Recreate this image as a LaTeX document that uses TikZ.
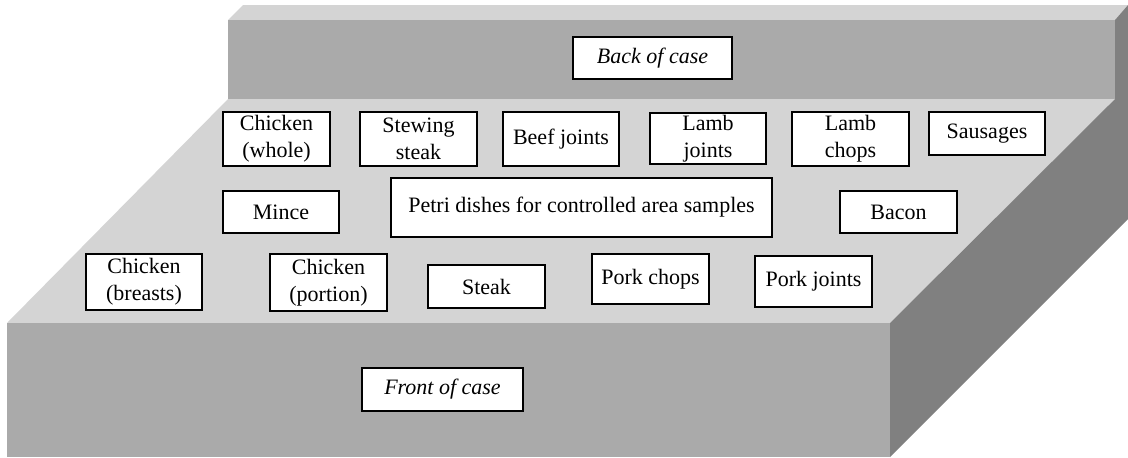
\documentclass[tikz,border=0pt]{standalone}
\usepackage{fontspec}
\setmainfont{Liberation Serif}
\definecolor{topgray}{RGB}{212,212,212}
\definecolor{frontgray}{RGB}{170,170,170}
\definecolor{sidegray}{RGB}{128,128,128}
\tikzset{
	food/.style={draw, fill=white, line width=0.6pt, inner sep=0pt, align=center,
		minimum width=58.5pt, font=\fontsize{11}{13.5}\selectfont},
	sidelabel/.style={food, font=\fontsize{11}{13.5}\selectfont\itshape}
}
\begin{document}
\begin{tikzpicture}[x=0.5pt,y=-0.5pt]
				\useasboundingbox (0,0) rectangle (1128,457);
				% back part of the case
				\fill [topgray] (228,20) -- (243,5) -- (1128,5) -- (1115,20) -- cycle;
				\fill [frontgray] (228,20) rectangle (1115,99);
				% shelf and front of the case
				\fill [topgray] (228,99) -- (1115,99) -- (890,323) -- (7,323) -- cycle;
				\fill [frontgray] (7,323) rectangle (890,457);
				\fill [sidegray] (1115,20) -- (1128,5) -- (1128,219) -- (890,457) -- (890,323) -- (1115,99) -- cycle;
				\node [sidelabel, minimum width=79.5pt, minimum height=21pt] (back) at (652.5,58) {Back of case};
				\node [sidelabel, minimum width=80.5pt, minimum height=21.5pt] (front) at (442.5,389.5) {Front of case};
				% back row
				\node [food, minimum width=53.5pt, minimum height=27pt] (chwhole) at (276.5,139) {Chicken\\(whole)};
				\node [food, minimum height=27pt] (stewing) at (418.5,139) {Stewing\\steak};
				\node [food, minimum width=58pt, minimum height=27pt] (beefj) at (561,139) {Beef joints};
				\node [food, minimum width=58pt, minimum height=25.5pt] (lambj) at (708,138.5) {Lamb\\joints};
				\node [food, minimum height=27pt] (lambc) at (850.5,139) {Lamb\\chops};
				\node [food, minimum width=58pt, minimum height=21.5pt] (sausages) at (987,133.5) {Sausages};
				% middle row
				\node [food, minimum width=58pt, minimum height=21pt] (mince) at (281,212) {Mince};
				\node [food, minimum width=190.5pt, minimum height=29.5pt] (petri) at (581.5,207.5) {Petri dishes for controlled area samples};
				\node [food, minimum height=21pt] (bacon) at (898.5,212) {Bacon};
				% front row
				\node [food, minimum width=58pt, minimum height=28pt] (chbreast) at (144,282) {Chicken\\(breasts)};
				\node [food, minimum height=28.5pt] (chportion) at (328.5,282.5) {Chicken\\(portion)};
				\node [food, minimum height=21.5pt] (steak) at (486.5,286.5) {Steak};
				\node [food, minimum height=25pt] (porkc) at (650.5,279) {Pork chops};
				\node [food, minimum height=25.5pt] (porkj) at (813.5,281.5) {Pork joints};
\end{tikzpicture}
\end{document}
